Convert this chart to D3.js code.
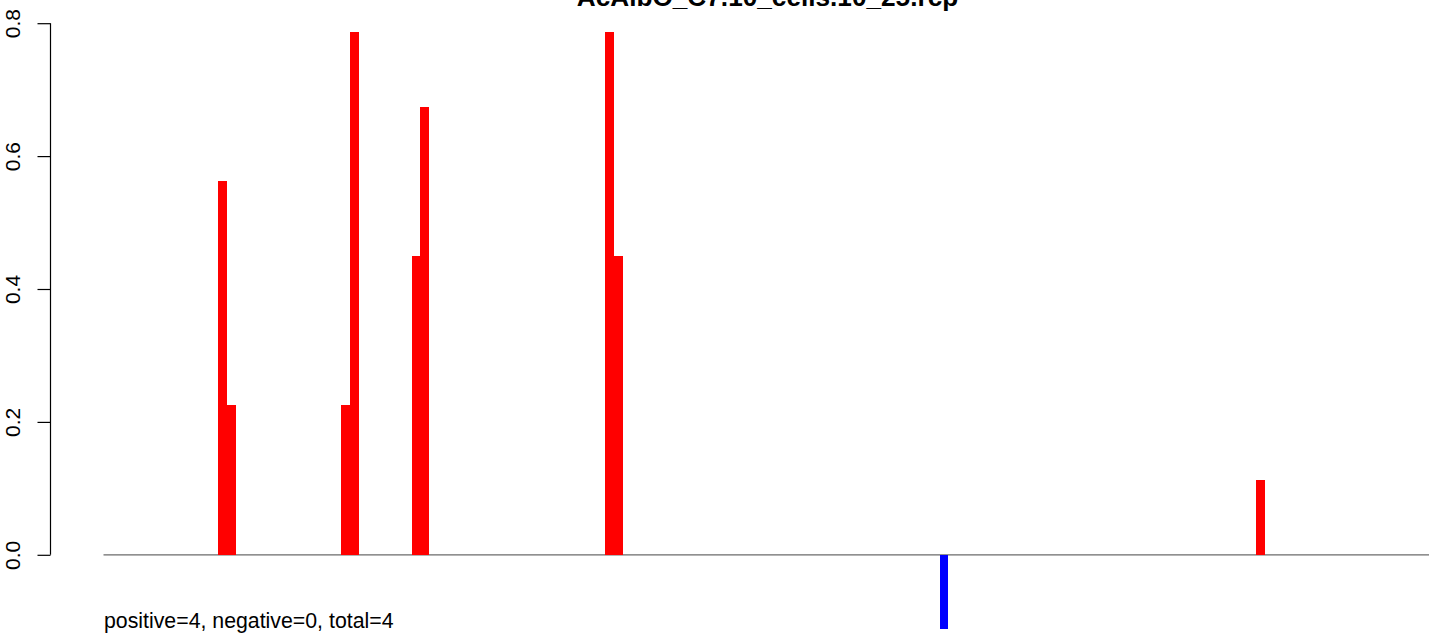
<!DOCTYPE html>
<html>
<head>
<meta charset="utf-8">
<script src="https://cdn.jsdelivr.net/npm/d3@7"></script>
<style>
  html, body { margin: 0; padding: 0; background: #fff; }
  svg { display: block; font-family: "Liberation Sans", Arial, Helvetica, sans-serif; }
</style>
</head>
<body>
<svg id="chart" width="1429" height="634"></svg>
<script>
// ---- data ----
const title = "AcAlbO_C7.10_cells.10_25.rcp";
const footnote = "positive=4, negative=0, total=4";
const seqLength = 152;
const positions = [14, 15, 28, 29, 36, 37, 58, 59, 96, 132];
const values = [0.562, 0.225, 0.225, 0.787, 0.449, 0.674, 0.787, 0.449, -0.112, 0.112];
const yTicks = [0, 0.2, 0.4, 0.6, 0.8];

// ---- layout ----
const svg = d3.select("#chart");

const x = d3.scaleLinear().domain([0, seqLength]).range([103.5, 103.5 + seqLength * 8.8]);
const y = d3.scaleLinear().domain([0, 0.8]).range([554.8, 23.2]);

// baseline
svg.append("line")
  .attr("x1", x(0)).attr("x2", x(seqLength))
  .attr("y1", y(0)).attr("y2", y(0))
  .attr("stroke", "#6b6b6b").attr("stroke-width", 1.2);

// bars
const data = positions.map((p, i) => ({ p, v: values[i] }));
svg.append("g").selectAll("rect").data(data).join("rect")
  .attr("x", d => x(d.p - 1))
  .attr("width", d => x(d.p) - x(d.p - 1))
  .attr("y", d => d.v >= 0 ? y(d.v) : y(0))
  .attr("height", d => Math.abs(y(d.v) - y(0)))
  .attr("fill", d => d.v >= 0 ? "#ff0000" : "#0000ff")
  .attr("shape-rendering", "crispEdges");

// y axis
const axis = d3.axisLeft(y).tickValues(yTicks).tickFormat(d3.format(".1f")).tickSize(13).tickPadding(0);
const gy = svg.append("g").attr("transform", "translate(50.5,0)").call(axis);
gy.select(".domain").attr("d", `M0,${y(0)}V${y(0.8)}`).attr("stroke", "#000").attr("stroke-width", 1.2);
gy.selectAll(".tick line").attr("stroke", "#000").attr("stroke-width", 1.2);
gy.selectAll(".tick text")
  .attr("x", null).attr("dy", null)
  .attr("transform", "translate(-30.5,0) rotate(-90)")
  .attr("text-anchor", "middle")
  .attr("font-size", "21px")
  .attr("font-family", "Liberation Sans, Arial, sans-serif")
  .attr("fill", "#000");

// title (cut off at the top edge, as in the reference)
svg.append("text")
  .attr("x", 767.5).attr("y", 6)
  .attr("text-anchor", "middle")
  .attr("font-size", "26.2px")
  .attr("font-weight", "bold")
  .attr("fill", "#000")
  .text(title);

// footnote
svg.append("text")
  .attr("x", 104).attr("y", 628)
  .attr("font-size", "21.3px")
  .attr("fill", "#000")
  .text(footnote);
</script>
</body>
</html>
